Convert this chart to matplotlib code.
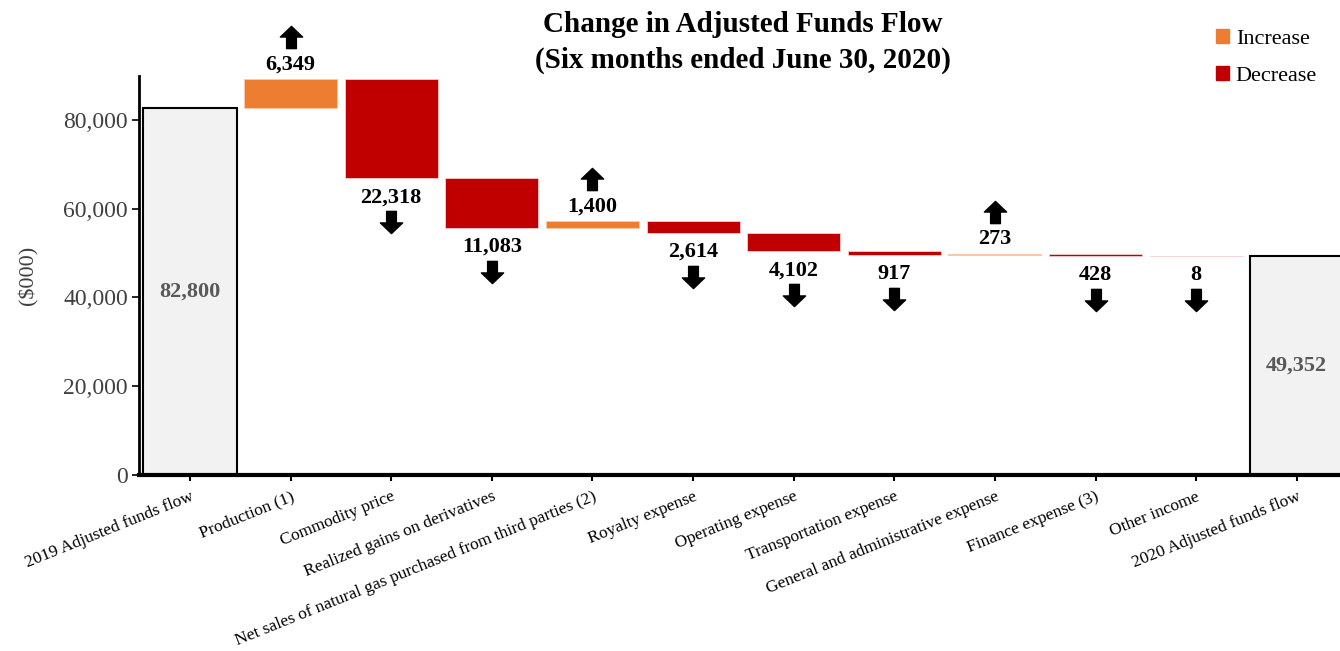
import numpy as np
import matplotlib
matplotlib.use('Agg')
import matplotlib.pyplot as plt
import matplotlib.transforms as mtransforms
from matplotlib.patches import Patch
from matplotlib.path import Path

plt.rcParams['font.family'] = ['Liberation Serif', 'DejaVu Serif']

categories = ['2019 Adjusted funds flow', 'Production (1)', 'Commodity price',
              'Realized gains on derivatives',
              'Net sales of natural gas purchased from third parties (2)',
              'Royalty expense', 'Operating expense', 'Transportation expense',
              'General and administrative expense', 'Finance expense (3)',
              'Other income', '2020 Adjusted funds flow']
start_total = 82800
changes = [6349, -22318, -11083, 1400, -2614, -4102, -917, 273, -428, -8]

c_inc = '#ED7D31'
c_dec = '#C00000'
c_tot = '#F2F2F2'

# block arrow marker (pointing up)
arrow_up = Path([(-0.22, -0.5), (0.22, -0.5), (0.22, 0.02), (0.5, 0.02),
                 (0.0, 0.5), (-0.5, 0.02), (-0.22, 0.02), (-0.22, -0.5)],
                closed=True)
arrow_down = Path([(x, -y) for x, y in arrow_up.vertices], closed=True)

fig = plt.figure(figsize=(13.4, 6.51), dpi=100)
ax = fig.add_axes([0.1037, 0.2704, 0.8963, 0.6135])

x = np.arange(len(categories))
w = 0.925

# totals
end_total = start_total + sum(changes)
for xi, val in [(0, start_total), (len(categories) - 1, end_total)]:
    ax.bar(xi, val, width=w, color=c_tot, edgecolor='black', linewidth=1.5, zorder=2)
    ax.text(xi, val / 2, f'{val:,}', ha='center', va='center', fontsize=16,
            fontweight='bold', color='#595959')

# changes
running = start_total
for i, ch in enumerate(changes):
    xi = i + 1
    if ch >= 0:
        bottom, top = running, running + ch
        ax.bar(xi, ch, bottom=bottom, width=w, color=c_inc, edgecolor='#F8CBAD',
               linewidth=0.6, zorder=2)
        ax.annotate(f'{ch:,}', (xi, top), xytext=(0, 15), textcoords='offset pixels',
                    ha='center', va='center', fontsize=16, fontweight='bold')
        tr = mtransforms.offset_copy(ax.transData, fig=fig, x=0, y=42, units='dots')
        ax.plot(xi, top, marker=arrow_up, markersize=16, color='black',
                transform=tr, clip_on=False, zorder=3)
    else:
        bottom, top = running + ch, running
        ax.bar(xi, -ch, bottom=bottom, width=w, color=c_dec, edgecolor='#F4CCCC',
               linewidth=0.6, zorder=2)
        ax.annotate(f'{-ch:,}', (xi, bottom), xytext=(0, -19), textcoords='offset pixels',
                    ha='center', va='center', fontsize=16, fontweight='bold')
        tr = mtransforms.offset_copy(ax.transData, fig=fig, x=0, y=-44, units='dots')
        ax.plot(xi, bottom, marker=arrow_down, markersize=16, color='black',
                transform=tr, clip_on=False, zorder=3)
    running += ch

ax.set_xlim(-0.507, 11.43)
ax.set_ylim(0, 90000)
ax.set_yticks(np.arange(0, 80001, 20000))
ax.yaxis.set_major_formatter(matplotlib.ticker.FuncFormatter(lambda v, p: f'{int(v):,}'))
ax.set_xticks(x)
ax.set_xticklabels(categories, rotation=22, ha='right', rotation_mode='anchor', fontsize=12.5)

for s in ['top', 'right']:
    ax.spines[s].set_visible(False)
ax.spines['left'].set_linewidth(2)
ax.spines['bottom'].set_linewidth(3)
ax.tick_params(axis='y', labelsize=17, labelcolor='#404040', length=5, width=1.2, pad=3)
ax.tick_params(axis='x', length=4, width=1.5, pad=6)
ax.set_ylabel('($000)', fontsize=16, color='#404040', labelpad=18)

fig.text(0.5545, 0.963, 'Change in Adjusted Funds Flow', ha='center', va='center',
         fontsize=21, fontweight='bold')
fig.text(0.5545, 0.908, '(Six months ended June 30, 2020)', ha='center', va='center',
         fontsize=21, fontweight='bold')

handles = [Patch(color=c_inc, label='Increase'), Patch(color=c_dec, label='Decrease')]
fig.legend(handles=handles, loc='upper left', bbox_to_anchor=(0.899, 0.972),
           frameon=False, fontsize=16, handlelength=0.6, handleheight=0.6,
           handletextpad=0.3, labelspacing=0.75, borderpad=0)

fig.savefig('out.png', dpi=100)
